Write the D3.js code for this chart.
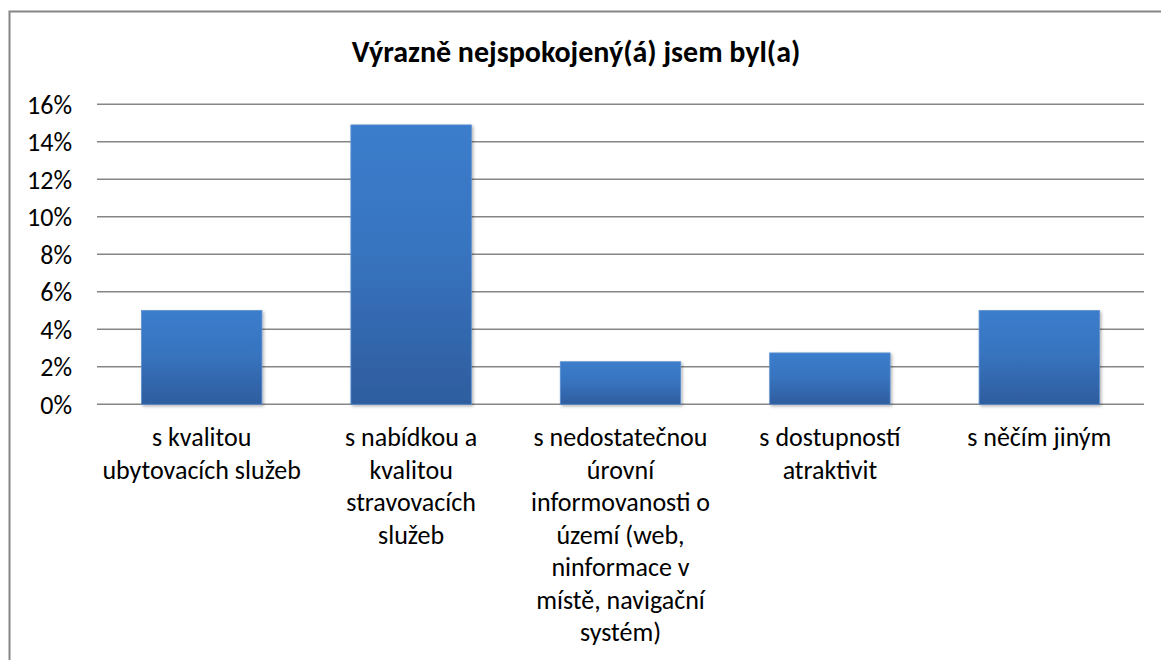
<!DOCTYPE html>
<html><head><meta charset="utf-8">
<script src="https://cdn.jsdelivr.net/npm/d3@7"></script>
<style>body{margin:0;background:#fff;}svg{display:block;}</style>
</head><body>
<script>
const categories = [
  ["s kvalitou", "ubytovacích služeb"],
  ["s nabídkou a", "kvalitou", "stravovacích", "služeb"],
  ["s nedostatečnou", "úrovní", "informovanosti o", "území (web,", "ninformace v", "místě, navigační", "systém)"],
  ["s dostupností", "atraktivit"],
  ["s něčím jiným"]
];
const values = [0.05, 0.149, 0.0227, 0.0274, 0.05];
const tickValues = [0, 0.02, 0.04, 0.06, 0.08, 0.10, 0.12, 0.14, 0.16];
const title = "Výrazně nejspokojený(á) jsem byl(a)";

(function () {
const W = 1161, H = 660;
const svg = d3.select("body").append("svg").attr("width", W).attr("height", H);
const font = "Carlito, Calibri, Lato, 'Open Sans', sans-serif";

const defs = svg.append("defs");
const grad = defs.append("linearGradient").attr("id", "barGrad").attr("x1", 0).attr("y1", 0).attr("x2", 0).attr("y2", 1);
grad.append("stop").attr("offset", "0%").attr("stop-color", "#3b7dcc");
grad.append("stop").attr("offset", "45%").attr("stop-color", "#3874c0");
grad.append("stop").attr("offset", "100%").attr("stop-color", "#2e5d9e");
const flt = defs.append("filter").attr("id", "shadow").attr("x", "-10%").attr("y", "-10%").attr("width", "130%").attr("height", "130%");
flt.append("feDropShadow").attr("dx", 1.5).attr("dy", 1.5).attr("stdDeviation", 1.5).attr("flood-color", "#000").attr("flood-opacity", 0.3);

// chart border
svg.append("rect").attr("x", 9.5).attr("y", 11.5).attr("width", W + 20).attr("height", H + 20)
  .attr("fill", "#fff").attr("stroke", "#868686").attr("stroke-width", 2);

const pLeft = 97, pRight = 1144, pTop = 104.3, pBottom = 404.3;
const x = d3.scaleBand().domain(d3.range(categories.length)).range([pLeft, pRight]).paddingInner(0.425).paddingOuter(0.2125);
const y = d3.scaleLinear().domain([0, 0.16]).range([pBottom, pTop]);

// gridlines
svg.append("g").selectAll("line").data(tickValues).join("line")
  .attr("x1", pLeft).attr("x2", pRight)
  .attr("y1", d => y(d)).attr("y2", d => y(d))
  .attr("stroke", "#868686").attr("stroke-width", 1.5);

// y axis labels
const yAxis = d3.axisLeft(y).tickValues(tickValues).tickFormat(d3.format(".0%")).tickSize(0).tickPadding(0);
const ya = svg.append("g").attr("transform", `translate(72,0)`).call(yAxis);
ya.select(".domain").remove();
ya.selectAll("text").attr("font-family", font).attr("font-size", 26).attr("fill", "#000").attr("dy", "0.34em");

// bars
svg.append("g").selectAll("rect").data(values).join("rect")
  .attr("x", (d, i) => x(i)).attr("width", x.bandwidth())
  .attr("y", d => y(d)).attr("height", d => y(0) - y(d))
  .attr("fill", "url(#barGrad)").attr("stroke", "#5b8fd0").attr("stroke-width", 0.8)
  .attr("filter", "url(#shadow)");

// category labels
const lab = svg.append("g").selectAll("text").data(categories).join("text")
  .attr("x", (d, i) => x(i) + x.bandwidth() / 2)
  .attr("y", 446)
  .attr("text-anchor", "middle").attr("font-family", font).attr("font-size", 26).attr("fill", "#000");
lab.selectAll("tspan").data(d => d).join("tspan")
  .attr("x", function () { return this.parentNode.getAttribute("x"); })
  .attr("dy", (d, i) => i === 0 ? 0 : 32.5)
  .text(d => d);

// title
svg.append("text").attr("x", 576).attr("y", 62).attr("text-anchor", "middle")
  .attr("font-family", font).attr("font-size", 30).attr("font-weight", "bold").attr("fill", "#000")
  .text(title);
})();
</script>
</body></html>
